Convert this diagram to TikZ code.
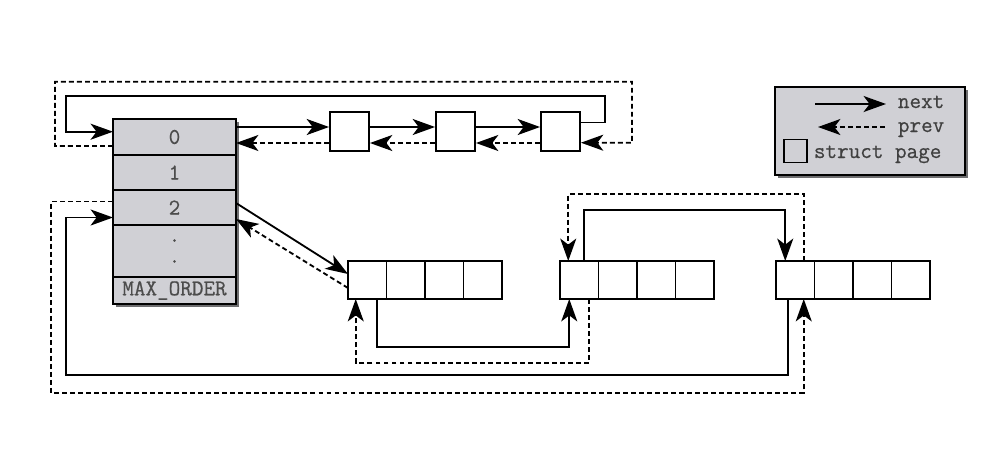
\documentclass[tikz,border=0pt]{standalone}
\usepackage{fontspec}
\newfontfamily\codefont{Latin Modern Mono}[FakeBold=0.6]
\usetikzlibrary{arrows.meta,calc,positioning,shadows}
\definecolor{slotgray}{RGB}{208,208,213}
\definecolor{shadegray}{RGB}{110,110,112}
\begin{document}
\begin{tikzpicture}[x=0.025cm, y=-0.025cm, line width=1.3pt,
  next/.style={-{Stealth[length=5.6mm, width=4mm, inset=1.5mm]}},
  prev/.style={next, dash pattern=on 3.5pt off 2.2pt},
  shade/.style={drop shadow={shadow xshift=0.08cm, shadow yshift=-0.08cm, fill=shadegray, opacity=1}},
  slot/.style={draw, fill=slotgray, shade, minimum width=3.075cm, inner sep=0pt, outer sep=0pt,
    font=\codefont\fontsize{16}{16}\selectfont, text=black!70},
  page/.style={draw, fill=white, minimum size=0.975cm, inner sep=0pt},
  cell/.style={draw, fill=white, minimum width=0.9625cm, minimum height=0.95cm, inner sep=0pt, outer sep=0pt},
  lbl/.style={anchor=base west, inner sep=0pt, font=\codefont\fontsize{16}{16}\selectfont, text=black!75}]
\useasboundingbox (0,0) rectangle (1008,455);

% free_area array
\node[slot, minimum height=0.9cm] (m0) at (174.5,137) {0};
\node[slot, minimum height=0.875cm] (m1) at (174.5,172.5) {1};
\node[slot, minimum height=0.875cm] (m2) at (174.5,207.5) {2};
\node[slot, minimum height=1.3cm, align=center] (md) at (174.5,251) {.\\[-1.2pt].};
\node[slot, minimum height=0.675cm] (mmax) at (174.5,290.5) {MAX\_ORDER};

% order 0 list
\node[page] (p1) at (349.5,131.5) {};
\node[page] (p2) at (455.5,131.5) {};
\node[page] (p3) at (560.5,131.5) {};

\coordinate (n0) at ($(p1.west)+(0,-4.5)$);
\draw[next] (m0.east |- n0) -- (n0);
\draw[prev] ($(p1.west)+(0,11.5)$) -- ($(m0.east)+(0,6)$);
\draw[next] ($(p1.east)+(0,-4.5)$) -- ($(p2.west)+(0,-4.5)$);
\draw[prev] ($(p2.west)+(0,11.5)$) -- ($(p1.east)+(0,11.5)$);
\draw[next] ($(p2.east)+(0,-4.5)$) -- ($(p3.west)+(0,-4.5)$);
\draw[prev] ($(p3.west)+(0,11.5)$) -- ($(p2.east)+(0,11.5)$);
\draw[next] ($(p3.east)+(0,-9)$) -- ++(24,0) |- (66,95.7) |- ($(m0.west)+(0,-5.3)$);
\draw[prev] ($(m0.west)+(0,9)$) -| (55,81.7) -| (632,142.7) -- ($(p3.east)+(0,11.2)$);

% order 2 blocks
\node[cell] (a1) at (367.25,280) {};
\node[cell, right=0pt of a1] (a2) {};
\node[cell, right=0pt of a2] (a3) {};
\node[cell, right=0pt of a3] (a4) {};
\node[cell] (b1) at (579.25,280) {};
\node[cell, right=0pt of b1] (b2) {};
\node[cell, right=0pt of b2] (b3) {};
\node[cell, right=0pt of b3] (b4) {};
\node[cell] (c1) at (795.25,280) {};
\node[cell, right=0pt of c1] (c2) {};
\node[cell, right=0pt of c2] (c3) {};
\node[cell, right=0pt of c3] (c4) {};

\draw[next] ($(m2.east)+(0,-4.5)$) -- ($(a1.west)+(0,-6)$);
\draw[prev] ($(a1.west)+(0,8)$) -- ($(m2.east)+(0,11.5)$);
\draw[next] ($(a1.south)+(9.5,0)$) -- ++(0,47.7) -| ($(b1.south)+(-10,0)$);
\draw[prev] ($(b1.south)+(10,0)$) -- ++(0,63.7) -| ($(a1.south)+(-11.5,0)$);
\draw[next] ($(b1.north)+(5,0)$) -- ++(0,-51) -| ($(c1.north)+(-10,0)$);
\draw[prev] ($(c1.north)+(9,0)$) -- ++(0,-67) -| ($(b1.north)+(-11,0)$);
\draw[next] ($(c1.south)+(-7.5,0)$) |- (66,375) |- ($(m2.west)+(0,10)$);
\draw[prev] ($(m2.west)+(0,-6)$) -| (51,393) -| ($(c1.south)+(8.5,0)$);

% legend
\node[draw, fill=slotgray, shade, minimum width=4.75cm, minimum height=2.2cm] (key) at (870,131) {};
\node[lbl] (knext) at (897,108) {next};
\node[lbl] (kprev) at (897,132) {prev};
\node[draw, fill=slotgray, minimum size=0.575cm, inner sep=0pt] (kpage) at (795.5,151) {};
\node[lbl] (kstruct) at (813,158) {struct page};
\coordinate (kn) at (815,104);
\coordinate (kp) at (885,127);
\draw[next] (kn) -- ($(knext.base west)+(-11,-4)$);
\draw[prev] (kp) -- ($(kprev.base west)+(-79,-5)$);
\end{tikzpicture}
\end{document}
